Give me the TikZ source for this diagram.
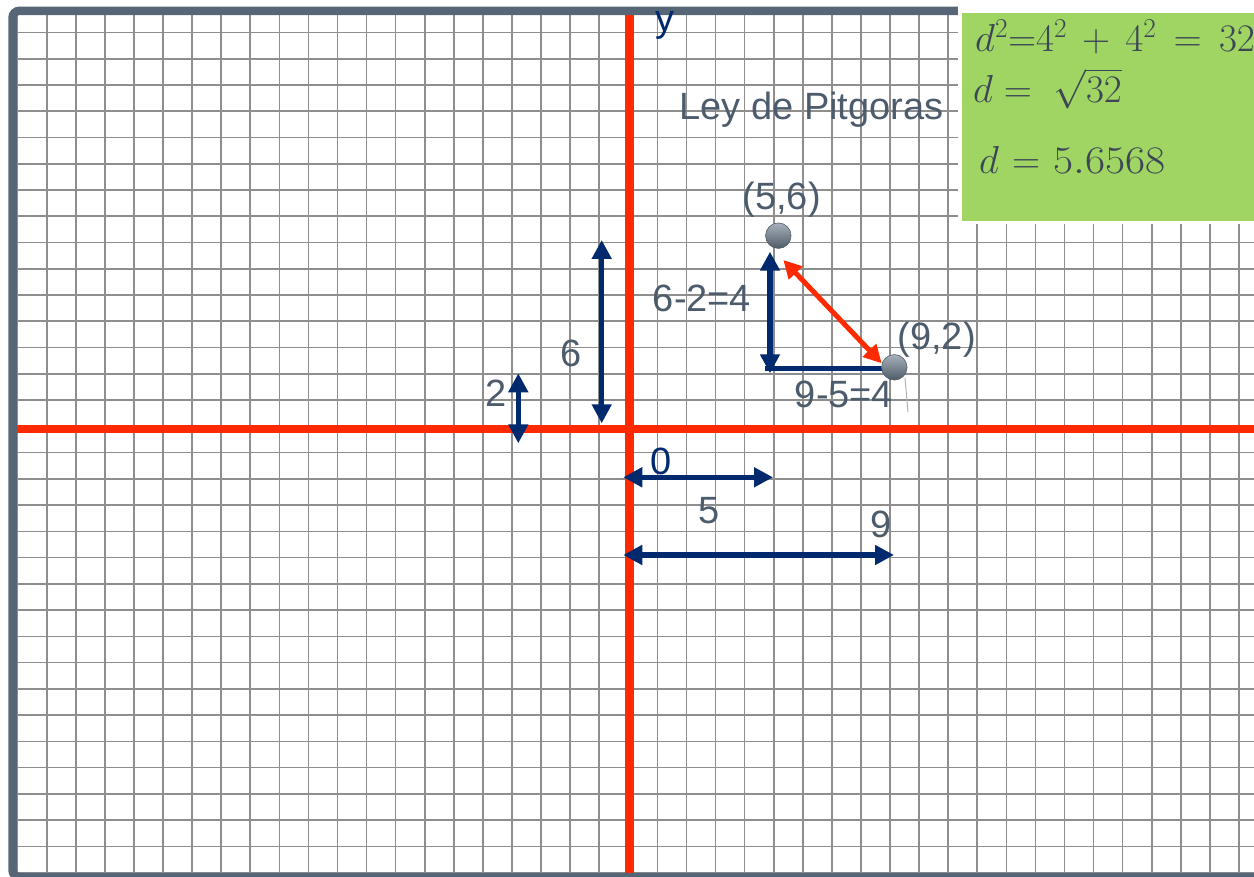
\RequirePackage{fix-cm}
\documentclass[tikz,border=0pt]{standalone}
\usepackage[no-math]{fontspec}
\setmainfont{Liberation Sans}
\usetikzlibrary{arrows.meta}
\definecolor{framec}{HTML}{566676}
\definecolor{gridc}{HTML}{8E8E8E}
\definecolor{axisred}{HTML}{FF2A00}
\definecolor{navy}{HTML}{00296E}
\definecolor{labelc}{HTML}{4D5C6C}
\definecolor{boxgreen}{HTML}{A0D463}
\definecolor{mathc}{HTML}{3C4656}
\definecolor{dottop}{HTML}{A8B1BB}
\definecolor{dotbot}{HTML}{4F5B68}
\begin{document}
\begin{tikzpicture}[x=1pt,y=-1pt,
  gridline/.style={draw=gridc, line width=1.6},
  axisline/.style={draw=axisred, line width=8.5},
  navyarrow/.style={draw=navy, line width=5.5, {Triangle[length=19pt,width=19pt]}-{Triangle[length=19pt,width=19pt]}},
  redarrow/.style={draw=axisred, line width=5, {Triangle[length=18pt,width=18pt]}-{Triangle[length=18pt,width=18pt]}},
  labeltext/.style={text=labelc, font=\fontsize{38}{44}\selectfont, inner sep=0pt, anchor=base},
  mathtext/.style={text=mathc, font=\fontsize{39}{47}\selectfont, inner sep=0pt, anchor=base west},
  dot/.style={circle, minimum size=25.5pt, inner sep=0pt, shading=axis, top color=dottop, bottom color=dotbot, draw=dotbot, line width=0.6}
]
\useasboundingbox (0,0) rectangle (1254,877);
\clip (0,0) rectangle (1254,877);
% grid
\begin{scope}
\clip (17,15) rectangle (1254,872);
\foreach \k in {-1,...,41}{
  \draw[gridline] ({46.7+29.08*\k},15) -- ({46.7+29.08*\k},872);
}
\foreach \k in {-16,...,17}{
  \draw[gridline] (17,{426.3+26.25*\k}) -- (1254,{426.3+26.25*\k});
}
\end{scope}
% axes
\coordinate (xl) at (17,429.2);
\coordinate (xr) at (1254,429.2);
\coordinate (yt) at (629.5,15);
\coordinate (yb) at (629.5,873);
\draw[axisline] (xl) -- (xr);
\draw[axisline] (yt) -- (yb);
% frame
\draw[draw=framec, line width=8.5, rounded corners=7] (1300,10.8) -- (12.5,10.8) -- (12.5,877) -- (1300,877);
% green box
\fill[white] (958,4) rectangle (1300,224);
\fill[boxgreen] (962,13.3) rectangle (1300,220.7);
\node[mathtext] (eq1) at (975,51.7) {$\medmuskip=7mu\thickmuskip=8mu d^{2}{=}4^{2}+4^{2}=32$};
\node[mathtext] (eq2) at (973,102.7) {$d=\;\sqrt{32}$};
\node[mathtext] (eq3) at (979,173.3) {$\thickmuskip=6mu d=\scalebox{1.12}[1]{$5.6568$}$};
% arrows
\coordinate (a6t) at (601.7,240);
\coordinate (a6b) at (601.7,423.3);
\coordinate (a2t) at (518.3,373.3);
\coordinate (a2b) at (518.3,443.3);
\coordinate (a5l) at (623.3,477.3);
\coordinate (a5r) at (773,477.3);
\coordinate (a9l) at (623.3,555);
\coordinate (a9r) at (894,555);
\coordinate (tvt) at (770,251.7);
\coordinate (tvb) at (770,373.3);
\coordinate (thl) at (765,368.3);
\coordinate (thr) at (894.3,368.3);
\coordinate (rt) at (783.3,260);
\coordinate (rb) at (881.7,363.3);
\draw[navyarrow] (a6t) -- (a6b);
\draw[navyarrow] (a2t) -- (a2b);
\draw[navyarrow] (a5l) -- (a5r);
\draw[navyarrow] (a9l) -- (a9r);
\draw[navyarrow] (tvt) -- (tvb);
\draw[draw=navy, line width=5.5] (thl) -- (thr);
\draw[redarrow] (rt) -- (rb);
% pin line
\coordinate (pin1) at (905,378);
\coordinate (pin2) at (908,412);
\draw[draw=gridc!70, line width=1] (pin1) -- (pin2);
% dots
\node[dot] (p56) at (778.3,235.7) {};
\node[dot] (p92) at (894.3,367.3) {};
% labels
\node[labeltext, text=navy] (ylab) at (664.5,32) {y};
\node[labeltext, anchor=base west] (ley) at (679.3,119.3) {Ley de Pitgoras};
\node[labeltext] (l56) at (781.7,209.5) {(5,6)};
\node[labeltext] (l92) at (936.7,350) {(9,2)};
\node[labeltext] (l62) at (702,311.7) {6-2=4};
\node[labeltext] (l95) at (844,407.3) {9-5=4};
\node[labeltext] (l6) at (571.2,366.7) {6};
\node[labeltext] (l2) at (496.2,406.7) {2};
\node[labeltext, text=navy] (l0) at (661.3,475) {0};
\node[labeltext] (l5) at (709,523) {5};
\node[labeltext] (l9) at (881,537) {9};
\end{tikzpicture}
\end{document}
